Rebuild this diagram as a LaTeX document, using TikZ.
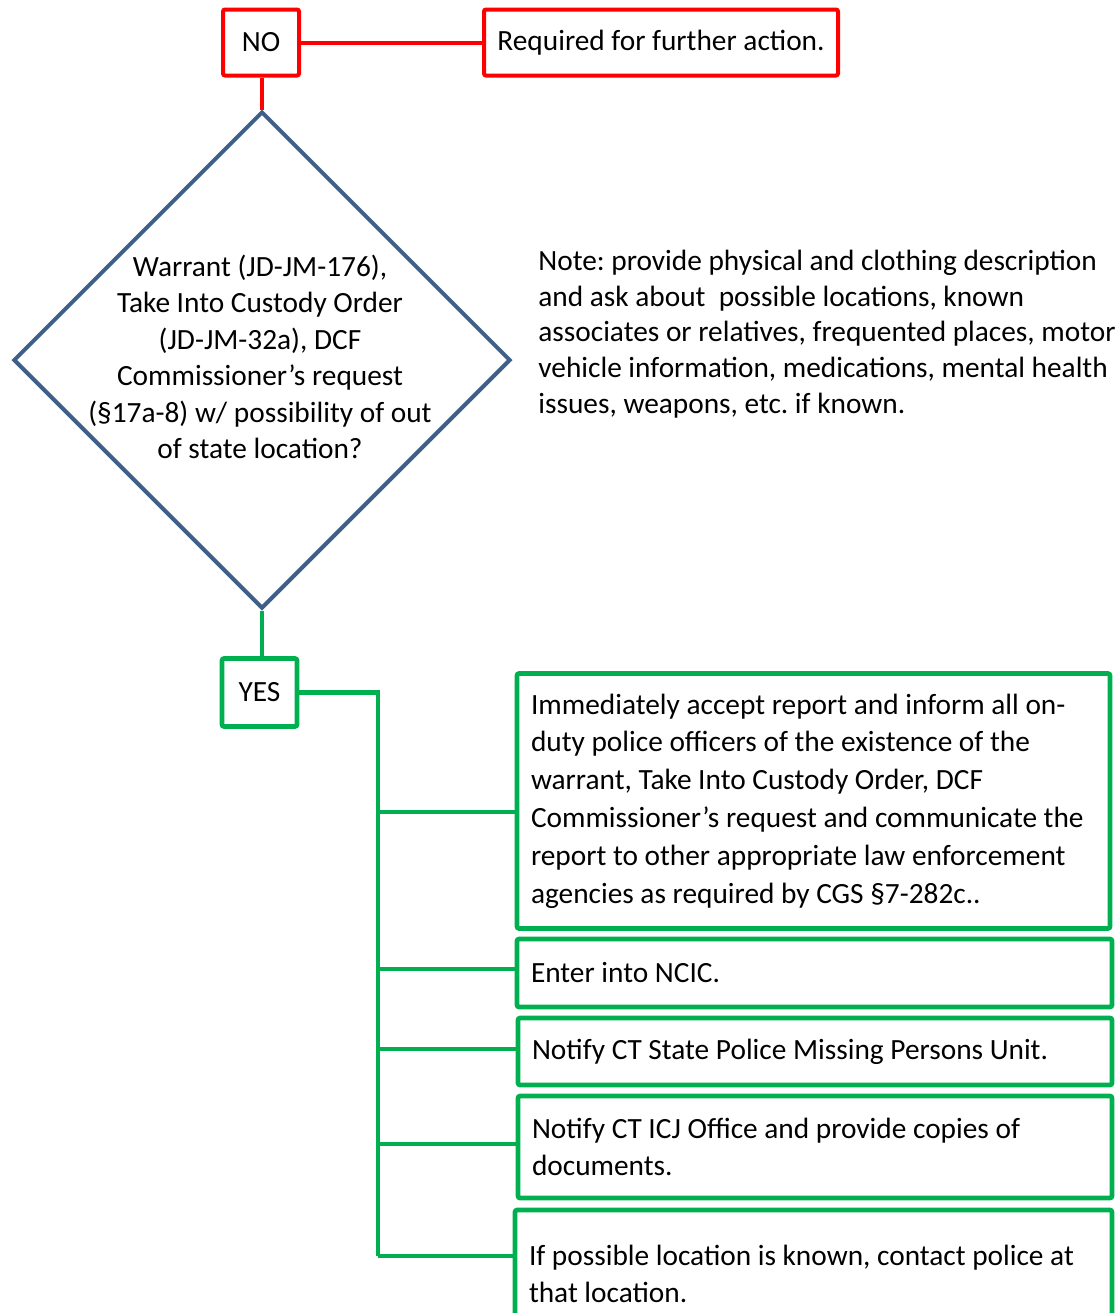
\documentclass[tikz,border=0pt]{standalone}
\usepackage{fontspec}
\setmainfont{Carlito}
\usetikzlibrary{shapes.geometric}
\frenchspacing

\definecolor{nored}{HTML}{FF0000}
\definecolor{yesgreen}{HTML}{00B050}
\definecolor{askblue}{HTML}{3E5F8A}

\tikzset{
	answer/.style={draw, fill=white, line width=2pt, rounded corners=1pt,
		inner sep=0pt, font=\fontsize{14.67pt}{18.9pt}\selectfont},
	nobox/.style={answer, draw=nored},
	yesbox/.style={answer, draw=yesgreen, line width=2.3pt},
	actbox/.style={yesbox, align=flush left, inner xsep=7pt},
	noline/.style={draw=nored, line width=2pt},
	yesline/.style={draw=yesgreen, line width=2.3pt}
}

\begin{document}
\begin{tikzpicture}[x=0.5pt,y=-0.5pt]
\clip (0,0) rectangle (1116,1313);

% top branch
\node[nobox, minimum width=38pt, minimum height=33pt] (no) at (261,42.5)
	{NO};
\node[nobox, minimum width=177pt, minimum height=33pt] (required) at (661,42.5)
	{Required for further action.};

% the question
\node[draw=askblue, line width=2pt, diamond, aspect=1, inner sep=0pt,
	minimum width=248.5pt, minimum height=248.5pt] (query) at (262,360) {};
\node[align=center, inner sep=0pt, font=\fontsize{14.67pt}{18.25pt}\selectfont] (querytext) at (260,357)
	{Warrant (JD-JM-176),\\Take Into Custody Order\\(JD-JM-32a), DCF\\Commissioner’s request\\(§17a-8) w/ possibility of out\\of state location?};

\node[align=flush left, anchor=west, inner sep=0pt, font=\fontsize{14.67pt}{17.9pt}\selectfont] (note) at (538,334)
	{Note: provide physical and clothing description\\and ask about~ possible locations, known\\associates or relatives, frequented places, motor\\vehicle information, medications, mental health\\issues, weapons, etc. if known.};

% yes branch
\node[yesbox, minimum width=37.5pt, minimum height=34pt] (yes) at (259.5,692.5)
	{YES};

\node[actbox, text width=282.5pt, minimum height=127.5pt] (act1) at (813.5,801)
	{Immediately accept report and inform all on-\\duty police officers of the existence of the\\warrant, Take Into Custody Order, DCF\\Commissioner’s request and communicate the\\report to other appropriate law enforcement\\agencies as required by CGS §7-282c..};
\node[actbox, text width=283.5pt, minimum height=34pt] (act2) at (814.5,973)
	{Enter into NCIC.};
\node[actbox, text width=283pt, minimum height=33.5pt] (act3) at (815,1051.5)
	{Notify CT State Police Missing Persons Unit.};
\node[actbox, text width=283pt, minimum height=51pt] (act4) at (815,1147)
	{Notify CT ICJ Office and provide copies of\\documents.};
\node[actbox, text width=284.5pt, minimum height=64pt] (act5) at (813.5,1274)
	{If possible location is known, contact police at\\that location.};

\coordinate (b1) at (378,812);
\coordinate (b2) at (378,969);
\coordinate (b3) at (378,1049);
\coordinate (b4) at (378,1144);
\coordinate (b5) at (378,1256);

\path[noline]
(no) edge (required)
(query.north) edge (query.north |- no.south);

\draw[yesline] (yes.east) -| (b5);
\path[yesline]
(query.south) edge (query.south |- yes.north)
(b1) edge (b1 -| act1.west)
(b2) edge (b2 -| act2.west)
(b3) edge (b3 -| act3.west)
(b4) edge (b4 -| act4.west)
(b5) edge (b5 -| act5.west);
\end{tikzpicture}
\end{document}
